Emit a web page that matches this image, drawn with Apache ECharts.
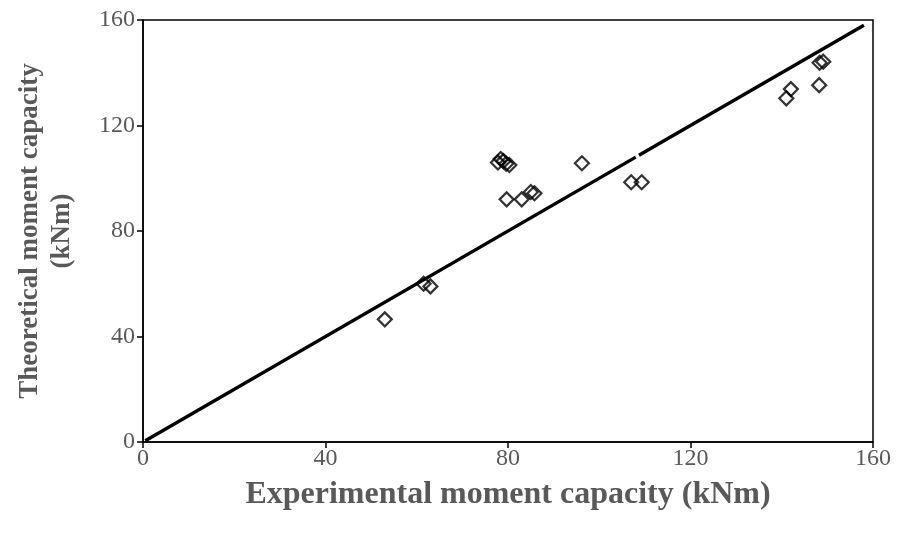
<!DOCTYPE html>
<html>
<head>
<meta charset="utf-8">
<script src="https://cdn.jsdelivr.net/npm/echarts@6/dist/echarts.min.js"></script>
<style>
  html, body { margin: 0; padding: 0; background: #fff; }
  #chart { width: 905px; height: 540px; }
</style>
</head>
<body>
<div id="chart"></div>
<script>
// Experimental vs theoretical moment capacity (kNm)
const experimental = [53, 61.5, 63, 77.8, 78.4, 79, 79.6, 80.3, 79.7, 83, 85, 85.8, 96.2, 107, 109.3, 141, 142, 148.2, 148.3, 149.1];
const theoretical  = [46.5, 60, 59, 106, 107.3, 106.5, 105.5, 105, 92, 92, 94.8, 94.3, 105.7, 98.5, 98.5, 130.3, 133.8, 135.3, 143.8, 144.2];

// 1:1 reference line, drawn in two pieces
const equalityLowX  = [0.5, 108];
const equalityHighX = [108.7, 158];

const axisTicks = [0, 40, 80, 120, 160];
const xTitle = 'Experimental moment capacity (kNm)';
const yTitle = 'Theoretical moment capacity\n(kNm)';

const font = 'Liberation Serif';
const textGray = '#595959';

const points = experimental.map((x, i) => [x, theoretical[i]]);
const lineLow = equalityLowX.map(v => [v, v]);
const lineHigh = equalityHighX.map(v => [v, v]);

const axisCommon = {
  type: 'value',
  min: axisTicks[0],
  max: axisTicks[axisTicks.length - 1],
  interval: axisTicks[1] - axisTicks[0],
  axisLine: { show: true, onZero: false, lineStyle: { color: '#000', width: 1.5 } },
  axisTick: { show: true, inside: false, length: 6, lineStyle: { color: '#000', width: 1.5 } },
  splitLine: { show: false },
  nameLocation: 'middle'
};

const chart = echarts.init(document.getElementById('chart'), null, { renderer: 'canvas' });
chart.setOption({
  animation: false,
  backgroundColor: '#fff',
  grid: { left: 143, right: 32, top: 20, bottom: 98, show: true, borderColor: '#000', borderWidth: 1.5 },
  xAxis: Object.assign({}, axisCommon, {
    name: xTitle,
    nameGap: 37,
    nameTextStyle: { fontFamily: font, fontSize: 32, fontWeight: 'bold', color: textGray },
    axisLabel: { fontFamily: font, fontSize: 24, color: textGray, margin: 5 }
  }),
  yAxis: Object.assign({}, axisCommon, {
    name: yTitle,
    nameGap: 65,
    nameRotate: 90,
    nameTextStyle: { fontFamily: font, fontSize: 27, fontWeight: 'bold', color: textGray, lineHeight: 32 },
    axisLabel: { fontFamily: font, fontSize: 24, color: textGray, margin: 8 }
  }),
  series: [
    {
      type: 'line', data: lineLow, symbol: 'none', silent: true,
      lineStyle: { color: '#000', width: 3.4 }
    },
    {
      type: 'line', data: lineHigh, symbol: 'none', silent: true,
      lineStyle: { color: '#000', width: 3.4 }
    },
    {
      type: 'scatter', data: points, symbol: 'diamond', symbolSize: 14,
      itemStyle: { color: 'rgba(255,255,255,0)', borderColor: '#000', borderWidth: 2.2 }
    }
  ]
});
</script>
</body>
</html>
